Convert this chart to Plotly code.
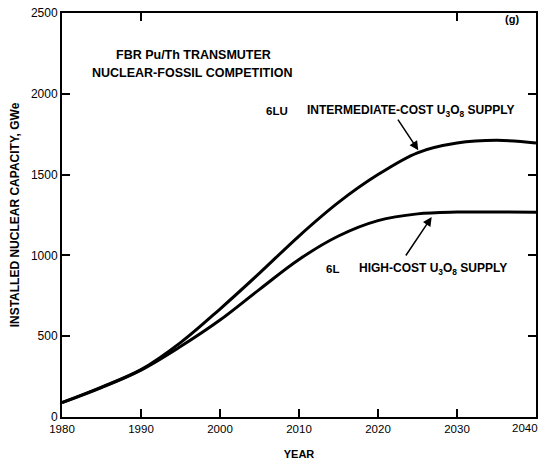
import plotly.graph_objects as go

years = [1980, 1985, 1990, 1995, 2000, 2005, 2010, 2015, 2020, 2025, 2030, 2035, 2040]
cap_6lu = [89, 185, 293, 460, 668, 890, 1120, 1328, 1500, 1635, 1695, 1712, 1696]
cap_6l = [89, 182, 290, 436, 600, 790, 975, 1120, 1215, 1257, 1268, 1269, 1267]

x_ticks = [1980, 1990, 2000, 2010, 2020, 2030, 2040]
y_ticks = [0, 500, 1000, 1500, 2000, 2500]

FONT = "Liberation Sans, Arial, sans-serif"

# last x label is drawn right-aligned so it stays inside the page
x_labels = [str(t) for t in x_ticks[:-1]] + [""]

fig = go.Figure()
for name, vals in [("6LU", cap_6lu), ("6L", cap_6l)]:
    fig.add_trace(go.Scatter(x=years, y=vals, mode="lines", name=name,
                             line=dict(color="black", width=3, shape="spline", smoothing=1.0),
                             showlegend=False, hoverinfo="skip"))

# invisible trace to carry top axis ticks
fig.add_trace(go.Scatter(x=[1980, 2040], y=[0, 0], xaxis="x2", mode="lines",
                         line=dict(width=0), showlegend=False, hoverinfo="skip"))

fig.update_layout(
    width=541, height=454,
    margin=dict(l=54, r=13, t=5, b=45),
    paper_bgcolor="white", plot_bgcolor="white",
    font=dict(family=FONT, color="black", size=12),
    xaxis=dict(range=[1980, 2040], tickvals=x_ticks, ticktext=x_labels, ticks="inside", ticklen=8,
               tickwidth=1.5, tickcolor="black", showline=True, linecolor="black", linewidth=2,
               mirror=True, showgrid=False, zeroline=False, tickfont=dict(size=11.5, family=FONT),
               automargin=False, ticklabeloverflow="allow",
               title=dict(text="<b>YEAR</b>", font=dict(size=11, family=FONT), standoff=17)),
    xaxis2=dict(range=[1980, 2040], overlaying="x", side="top", tickvals=[1990, 2030],
                ticks="inside", ticklen=8, tickwidth=1.5, tickcolor="black", automargin=False,
                showticklabels=False, showgrid=False, zeroline=False, showline=False),
    yaxis=dict(range=[0, 2500], tickvals=y_ticks, ticks="inside", ticklen=8, tickwidth=1.5,
               tickcolor="black", showline=True, linecolor="black", linewidth=2, mirror="ticks",
               showgrid=False, zeroline=False, tickfont=dict(size=12, family=FONT), automargin=False,
               ticklabeloverflow="allow",
               title=dict(text="<b>INSTALLED NUCLEAR CAPACITY, GWe</b>",
                          font=dict(size=12, family=FONT), standoff=22)),
)

fig.add_annotation(x=x_ticks[-1], y=0, xref="x", yref="y", text=str(x_ticks[-1]), showarrow=False,
                   xanchor="right", yanchor="top", yshift=-3, xshift=4,
                   font=dict(size=11.5, family=FONT, color="black"))

ann_font = dict(size=12, family=FONT, color="black")
fig.add_annotation(x=1996.7, y=2240, text="<b>FBR Pu/Th TRANSMUTER</b>", showarrow=False,
                   font=dict(size=12.5, family=FONT, color="black"), xanchor="center")
fig.add_annotation(x=1996.4, y=2129, text="<b>NUCLEAR-FOSSIL COMPETITION</b>", showarrow=False,
                   font=dict(size=12.5, family=FONT, color="black"), xanchor="center")
fig.add_annotation(x=2037, y=2460, text="<b>(g)</b>", showarrow=False, font=dict(size=11, family=FONT))
fig.add_annotation(x=2007.2, y=1894, text="<b>6LU</b>", showarrow=False, font=dict(size=11.5, family=FONT))
fig.add_annotation(x=2024.1, y=1894, text="<b>INTERMEDIATE-COST U<sub>3</sub>O<sub>8</sub> SUPPLY</b>",
                   showarrow=False, font=ann_font)
fig.add_annotation(x=2014.2, y=916, text="<b>6L</b>", showarrow=False, font=dict(size=11.5, family=FONT))
fig.add_annotation(x=2026.9, y=916, text="<b>HIGH-COST U<sub>3</sub>O<sub>8</sub> SUPPLY</b>",
                   showarrow=False, font=ann_font)

# arrows
fig.add_annotation(x=2025.1, y=1650, ax=2022.4, ay=1850, xref="x", yref="y", axref="x", ayref="y",
                   text="", showarrow=True, arrowhead=2, arrowsize=1.2, arrowwidth=1.5, arrowcolor="black")
fig.add_annotation(x=2026.8, y=1238, ax=2023.4, ay=990, xref="x", yref="y", axref="x", ayref="y",
                   text="", showarrow=True, arrowhead=2, arrowsize=1.2, arrowwidth=1.5, arrowcolor="black")

fig.write_html("out.html")
